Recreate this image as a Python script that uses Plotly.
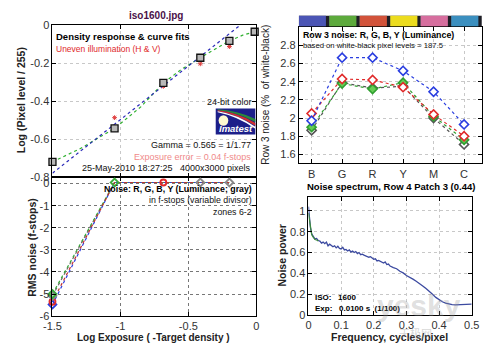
import plotly.graph_objects as go

W, H = 500, 353
def PX(x): return x / W
def PY(y): return 1 - y / H

# ---------- data ----------
# Density response (top-left)
patch_x = [-1.5, -1.043, -0.684, -0.412, -0.198, -0.012]
patch_y = [-0.72, -0.544, -0.304, -0.171, -0.082, -0.034]
uneven_x = [-1.043, -0.684, -0.412, -0.198]
uneven_y = [-0.487, -0.322, -0.203, -0.112]
fit_x = [-1.5, -1.3, -1.043, -0.85, -0.684, -0.55, -0.412, -0.3, -0.198, -0.1, -0.012]
fit_y = [-0.72, -0.652, -0.544, -0.43, -0.304, -0.232, -0.171, -0.124, -0.082, -0.052, -0.034]
gamma_x = [-1.5, -0.12]
gamma_y = [-0.78, 0.0]

# Noise in f-stops (bottom-left)
zone_x = [-1.5, -1.043, -0.684, -0.412, -0.198]
noise_R = [-5.35, 0.05, 0.05, 0.05, 0.05]
noise_G = [-5.0, 0.05, 0.05, 0.05, 0.05]
noise_B = [-5.48, 0.05, 0.05, 0.05, 0.05]
noise_Y = [-5.08, 0.05, 0.05, 0.05, 0.05]
mark_R = [-5.35, None, 0.05, None, None]
mark_G = [-5.0, 0.05, None, None, None]
mark_B = [-5.48, None, None, None, None]
mark_Y = [-5.08, None, None, 0.05, 0.05]

# Row 3 noise (top-right)
cats = ["B", "G", "R", "Y", "M", "C"]
row3_B = [1.97, 2.665, 2.665, 2.52, 2.29, 1.93]
row3_R = [2.05, 2.43, 2.42, 2.34, 2.04, 1.80]
row3_G = [1.90, 2.38, 2.32, 2.39, 2.02, 1.76]
row3_Y = [1.865, 2.39, 2.33, 2.35, 2.00, 1.71]
bar_colors = ["#4b55b5", "#5daa3c", "#d2533a", "#ecdc1e", "#d66e9e", "#3b8fbf"]

# Noise spectrum (bottom-right)
freq = [0, 0.003, 0.006, 0.01, 0.015, 0.02, 0.025, 0.03, 0.035, 0.04, 0.045, 0.05, 0.055, 0.06,
        0.065, 0.07, 0.075, 0.08, 0.085, 0.09, 0.095, 0.10, 0.105, 0.11, 0.115, 0.12, 0.125,
        0.13, 0.135, 0.14, 0.145, 0.15, 0.155, 0.16, 0.165, 0.17, 0.175, 0.18, 0.185, 0.19,
        0.195, 0.20, 0.205, 0.21, 0.215, 0.22, 0.225, 0.23, 0.235, 0.24, 0.245, 0.25, 0.26,
        0.27, 0.28, 0.29, 0.30, 0.31, 0.32, 0.33, 0.34, 0.35, 0.36, 0.37, 0.38, 0.39, 0.40,
        0.41, 0.42, 0.43, 0.44, 0.45, 0.46, 0.47, 0.48, 0.49, 0.50]
power = [1.04, 0.92, 0.84, 0.78, 0.75, 0.73, 0.735, 0.715, 0.71, 0.69, 0.70, 0.685, 0.70, 0.665,
         0.68, 0.67, 0.655, 0.665, 0.645, 0.66, 0.64, 0.635, 0.65, 0.625, 0.63, 0.615, 0.625,
         0.605, 0.615, 0.60, 0.61, 0.59, 0.60, 0.58, 0.585, 0.575, 0.57, 0.565, 0.555, 0.56,
         0.545, 0.535, 0.54, 0.52, 0.525, 0.515, 0.505, 0.50, 0.51, 0.485, 0.49, 0.47, 0.455,
         0.445, 0.42, 0.405, 0.38, 0.365, 0.345, 0.325, 0.305, 0.28, 0.255, 0.23, 0.20, 0.17,
         0.145, 0.128, 0.115, 0.105, 0.10, 0.098, 0.10, 0.097, 0.10, 0.105, 0.105]
freq_lo = [0, 0.003, 0.006, 0.01, 0.015, 0.02, 0.025, 0.03]
power_lo = [0.98, 0.90, 0.83, 0.77, 0.745, 0.725, 0.72, 0.71]

FONT = "Liberation Sans, Arial, sans-serif"
BLUE, RED, GREEN, GRAY = "#2a3ee0", "#e02a2a", "#3aaa3a", "#6a6a6a"

fig = go.Figure()

# ---------- top-left ----------
fig.add_trace(go.Scatter(x=fit_x, y=fit_y, mode="lines", line=dict(color="#2fb02f", width=1.2, dash="dot"),
                         xaxis="x", yaxis="y", showlegend=False))
fig.add_trace(go.Scatter(x=gamma_x, y=gamma_y, mode="lines", line=dict(color="#2a2ab8", width=1.2, dash="dot"),
                         xaxis="x", yaxis="y", showlegend=False))
fig.add_trace(go.Scatter(x=uneven_x, y=uneven_y, mode="markers",
                         marker=dict(symbol="asterisk", size=4, line=dict(color="#e04040", width=1)),
                         xaxis="x", yaxis="y", showlegend=False))
fig.add_trace(go.Scatter(x=patch_x, y=patch_y, mode="markers",
                         marker=dict(symbol="square", size=7, color="#b8b8b8", line=dict(color="#111", width=1.3)),
                         xaxis="x", yaxis="y", showlegend=False, cliponaxis=False))

# ---------- bottom-left ----------
for ys, c in [(noise_B, BLUE), (noise_Y, GRAY), (noise_G, GREEN), (noise_R, "#c03030")]:
    fig.add_trace(go.Scatter(x=zone_x, y=ys, mode="lines", line=dict(color=c, width=1.2, dash="dot"),
                             xaxis="x2", yaxis="y2", showlegend=False, cliponaxis=False))
for ys, c, s in [(mark_B, BLUE, "diamond-open"), (mark_R, RED, "circle-open"),
                 (mark_Y, "#888888", "diamond-open"), (mark_G, GREEN, "diamond-open")]:
    fig.add_trace(go.Scatter(x=zone_x, y=ys, mode="markers",
                             marker=dict(symbol=s, size=6, color=c, line=dict(color=c, width=1.8)),
                             xaxis="x2", yaxis="y2", showlegend=False, cliponaxis=False))

# ---------- top-right ----------
for ys, c, fill in [(row3_Y, "#555555", "white"), (row3_G, "#30a030", "#66cc55"),
                    (row3_R, RED, "white"), (row3_B, BLUE, "white")]:
    fig.add_trace(go.Scatter(x=cats, y=ys, mode="lines+markers",
                             line=dict(color=c, width=1.2, dash="dot"),
                             marker=dict(symbol="diamond", size=7, color=fill, line=dict(color=c, width=1.6)),
                             xaxis="x3", yaxis="y3", showlegend=False))

# ---------- bottom-right ----------
fig.add_trace(go.Scatter(x=freq, y=power, mode="lines", line=dict(color="#3c4aa0", width=1.3),
                         xaxis="x4", yaxis="y4", showlegend=False))
fig.add_trace(go.Scatter(x=freq_lo, y=power_lo, mode="lines", line=dict(color="#3d8a3d", width=1.2),
                         xaxis="x4", yaxis="y4", showlegend=False))

ax_common = dict(showline=True, linecolor="#000", linewidth=1, mirror="ticks", ticks="inside",
                 ticklen=4, tickcolor="#000", zeroline=False,
                 tickfont=dict(family=FONT, size=11, color="#333"),
                 showgrid=True, gridcolor="#c8c8c8", griddash="dot", gridwidth=1)

fig.update_layout(
    width=W, height=H, margin=dict(l=0, r=0, t=0, b=0),
    paper_bgcolor="white", plot_bgcolor="white",
    xaxis=dict(ax_common, domain=[PX(45), PX(256)], range=[-1.5, 0], tickvals=[-1.5, -1, -0.5, 0],
               showticklabels=False, anchor="y"),
    yaxis=dict(ax_common, domain=[PY(177), PY(20)], range=[-0.8, 0], tickvals=[-0.8, -0.6, -0.4, -0.2, 0],
               ticktext=["-0.8", "-0.6", "-0.4", "-0.2", "0"], anchor="x"),
    xaxis2=dict(ax_common, domain=[PX(45), PX(256)], range=[-1.5, 0], tickvals=[-1.5, -1, -0.5, 0],
                ticktext=["-1.5", "-1", "-0.5", "0"], anchor="y2", gridcolor="#777"),
    yaxis2=dict(ax_common, domain=[PY(321), PY(177)], range=[-6, 0.3], tickvals=[-6, -5, -4, -3, -2, -1, 0],
                ticktext=["-6", "-5", "-4", "-3", "-2", "-1", "0"], anchor="x2", gridcolor="#777"),
    xaxis3=dict(ax_common, domain=[PX(300), PX(490)], range=[-0.42, 5.6], anchor="y3",
                categoryorder="array", categoryarray=cats),
    yaxis3=dict(ax_common, domain=[PY(163), PY(22)], range=[1.5, 3.0],
                tickvals=[1.6, 1.8, 2.0, 2.2, 2.4, 2.6, 2.8],
                ticktext=["1.6", "1.8", "2", "2.2", "2.4", "2.6", "2.8"], anchor="x3"),
    xaxis4=dict(ax_common, domain=[PX(310), PX(479)], range=[0, 0.5], tickvals=[0, 0.1, 0.2, 0.3, 0.4, 0.5],
                ticktext=["0", "0.1", "0.2", "0.3", "0.4", "0.5"], anchor="y4"),
    yaxis4=dict(ax_common, domain=[PY(320), PY(198)], range=[0, 1.13], tickvals=[0, 0.2, 0.4, 0.6, 0.8, 1],
                ticktext=["0", "0.2", "0.4", "0.6", "0.8", "1"], anchor="x4"),
)

shapes = []
# colour bar above Row-3 plot, drawn in category coords
for i, c in enumerate(bar_colors):
    shapes.append(dict(type="rect", xref="x3", yref="paper", x0=i - 0.42, x1=i + 0.58,
                       y0=PY(21), y1=PY(10), fillcolor="#1e1e26", line=dict(width=0), layer="above"))
    shapes.append(dict(type="rect", xref="x3", yref="paper", x0=i - 0.42, x1=i + 0.47,
                       y0=PY(21), y1=PY(10), fillcolor=c, line=dict(width=0), layer="above"))
# Imatest logo
shapes.append(dict(type="rect", xref="paper", yref="paper", x0=PX(214), x1=PX(255), y0=PY(133), y1=PY(106),
                   fillcolor="#1c1f8a", line=dict(width=0)))
shapes.append(dict(type="path", xref="paper", yref="paper",
                   path=f"M {PX(216)} {PY(108)} Q {PX(236)} {PY(110)} {PX(255)} {PY(120)} L {PX(255)} {PY(117)} Q {PX(236)} {PY(108)} {PX(216)} {PY(107)} Z",
                   fillcolor="#2a8a3a", line=dict(width=0)))
shapes.append(dict(type="path", xref="paper", yref="paper",
                   path=f"M {PX(216)} {PY(109)} Q {PX(236)} {PY(112)} {PX(255)} {PY(124)} L {PX(255)} {PY(121)} Q {PX(236)} {PY(110)} {PX(216)} {PY(108)} Z",
                   fillcolor="#d03030", line=dict(width=0)))
shapes.append(dict(type="path", xref="paper", yref="paper",
                   path=f"M {PX(216)} {PY(110)} Q {PX(236)} {PY(114)} {PX(255)} {PY(127)} L {PX(255)} {PY(125)} Q {PX(236)} {PY(112)} {PX(216)} {PY(109)} Z",
                   fillcolor="#ffffff", line=dict(width=0)))
shapes.append(dict(type="circle", xref="paper", yref="paper", x0=PX(217), x1=PX(227), y0=PY(124), y1=PY(113),
                   fillcolor="#fffbd0", line=dict(width=0)))
fig.update_layout(shapes=shapes)

def ann(x, y, text, size=11, color="#000", bold=False, xanchor="left", angle=0, family=FONT, italic=False):
    t = f"<b>{text}</b>" if bold else text
    if italic:
        t = f"<i>{t}</i>"
    return dict(x=PX(x), y=PY(y), xref="paper", yref="paper", text=t, showarrow=False,
                xanchor=xanchor, yanchor="middle", textangle=angle, borderpad=0,
                font=dict(family=family, size=size, color=color))

anns = [
    ann(152, 10, "iso1600.jpg", 10, "#4a1048", True, "center"),
    ann(48, 32, "Density response &amp; curve fits", 9.5, "#000", True),
    ann(48, 44, "Uneven illumination (H &amp; V)", 8.5, "#e02a2a"),
    ann(253, 99, "24-bit color", 9, "#111", False, "right"),
    ann(235, 127, "Imatest", 9.5, "#ffffff", True, "center", italic=True),
    ann(252, 144, "Gamma = 0.565 = 1/1.77", 9, "#111", False, "right"),
    ann(252, 156, "Exposure error = 0.04 f-stops", 9, "#f08a8a", False, "right"),
    ann(252, 168, "25-May-2010 18:27:25   4000x3000 pixels", 9, "#111", False, "right"),
    ann(12, 98, "Log (Pixel level / 255)", 10.5, "#222", True, "center", -90),
    ann(253, 189, "Noise: R, G, B, Y (Luminance; gray)", 8.8, "#000", True, "right"),
    ann(253, 201, "in f-stops (variable divisor)", 8.8, "#111", False, "right"),
    ann(253, 213, "zones 6-2", 8.8, "#111", False, "right"),
    ann(23, 250, "RMS noise (f-stops)", 10.5, "#222", True, "center", -90),
    ann(150, 343, "Log Exposure ( -Target density )", 10, "#222", True, "center"),
    ann(303, 30, "Row 3 noise: R, G, B, Y (Luminance)", 8.8, "#000", True),
    ann(303, 41, "based on white-black pixel levels = 187.5", 7.7, "#111"),
    ann(266, 92, "Row 3 noise (%  of white-black)", 10, "#222", False, "center", -90),
    ann(395, 187, "Noise spectrum, Row 4 Patch 3 (0.44)", 9.5, "#000", True, "center"),
    ann(283, 258, "Noise power", 10.5, "#222", True, "center", -90),
    ann(394, 343, "Frequency, cycles/pixel", 10.5, "#222", True, "center"),
    ann(316, 302, "ISO:   1600", 8, "#000", True),
    ann(316, 313, "Exp:   0.0100 s  (1/100)", 8, "#000", True),
    ann(424, 310, "yesky", 30, "rgba(150,150,150,0.3)", True, "center"),
    ann(421, 339, "天极网", 11, "rgba(150,150,150,0.4)", False, "center", family="Noto Sans CJK SC"),
]
fig.update_layout(annotations=anns)

fig.write_html("out.html")
